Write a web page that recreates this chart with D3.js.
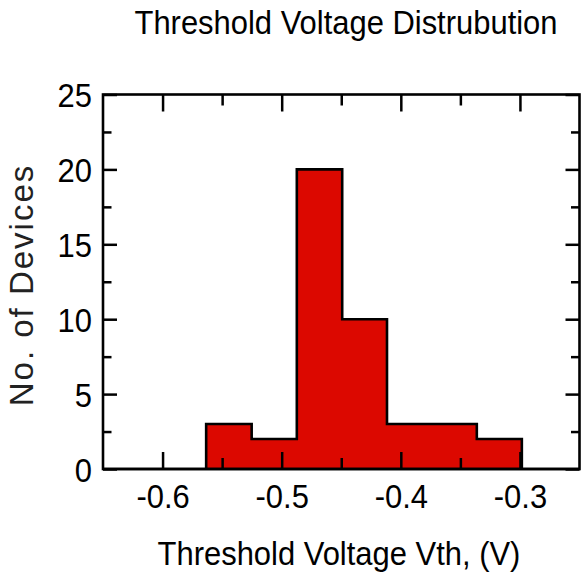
<!DOCTYPE html>
<html>
<head>
<meta charset="utf-8">
<script src="https://cdn.jsdelivr.net/npm/d3@7"></script>
<style>
  body { margin: 0; background: #fff; }
  text { font-family: "Liberation Sans", Arial, Helvetica, sans-serif; fill: #000; }
</style>
</head>
<body>
<div id="chart"></div>
<script>
// Histogram data
var binEdges = [-0.5634, -0.5252, -0.4873, -0.4492, -0.4116, -0.3739, -0.3362, -0.2984];
var counts = [3, 2, 20, 10, 3, 3, 2];

// Axis ticks
var xMajor = [-0.6, -0.5, -0.4, -0.3];
var xMinor = [-0.55, -0.45, -0.35];
var yMajor = [0, 5, 10, 15, 20, 25];
var yMinor = [2.5, 7.5, 12.5, 17.5, 22.5];

var titleText = "Threshold Voltage Distrubution";
var xLabel = "Threshold Voltage Vth, (V)";
var yLabel = "No. of Devices";

var width = 581, height = 579;
// plot box edges (named to avoid clashing with window.top)
var plotL = 103, plotR = 579.5, plotT = 94.5, plotB = 469;
var squeeze = "scale(0.91,1)";

var svg = d3.select("#chart")
  .append("svg")
  .attr("width", width)
  .attr("height", height);

var x = d3.scaleLinear().domain([-0.65, -0.25]).range([plotL, plotR]);
var y = d3.scaleLinear().domain([0, 25]).range([plotB, plotT]);

// Step outline of histogram, from left edge of plot to right edge
var pts = [[-0.65, 0], [binEdges[0], 0]];
counts.forEach(function(c, i) {
  pts.push([binEdges[i], c]);
  pts.push([binEdges[i + 1], c]);
});
pts.push([binEdges[binEdges.length - 1], 0]);
pts.push([-0.25, 0]);

var line = d3.line()
  .x(function(d) { return x(d[0]); })
  .y(function(d) { return y(d[1]); });

svg.append("path")
  .attr("d", line(pts) + "Z")
  .attr("fill", "#dc0800")
  .attr("stroke", "#000")
  .attr("stroke-width", 2.6)
  .attr("stroke-linejoin", "miter");

// Ticks helper
function drawAxis(axis, tx, ty, cls) {
  var g = svg.append("g")
    .attr("class", cls)
    .attr("transform", "translate(" + tx + "," + ty + ")")
    .call(axis);
  g.select(".domain").remove();
  g.selectAll(".tick line").attr("stroke", "#000").attr("stroke-width", 2.5);
  return g;
}

// bottom
var xb = drawAxis(d3.axisBottom(x).tickValues(xMajor).tickSize(-17)
  .tickFormat(function(d) { return d.toFixed(1); }), 0, plotB, "xAxis");
xb.selectAll(".tick text")
  .attr("y", 0).attr("dy", null)
  .attr("transform", "translate(0,39) " + squeeze)
  .style("font-size", "34px");
drawAxis(d3.axisBottom(x).tickValues(xMinor).tickSize(-11).tickFormat(""), 0, plotB, "xMinor");

// top
drawAxis(d3.axisTop(x).tickValues(xMajor).tickSize(-17).tickFormat(""), 0, plotT, "xTop");
drawAxis(d3.axisTop(x).tickValues(xMinor).tickSize(-11).tickFormat(""), 0, plotT, "xTopMinor");

// left
var yl = drawAxis(d3.axisLeft(y).tickValues(yMajor).tickSize(-14)
  .tickFormat(function(d) { return d; }), plotL, 0, "yAxis");
yl.selectAll(".tick text")
  .attr("x", 0).attr("dy", null)
  .attr("text-anchor", "end")
  .attr("transform", "translate(-11,12) " + squeeze)
  .style("font-size", "34px");
drawAxis(d3.axisLeft(y).tickValues(yMinor).tickSize(-8.5).tickFormat(""), plotL, 0, "yMinor");

// right
drawAxis(d3.axisRight(y).tickValues(yMajor).tickSize(-14).tickFormat(""), plotR, 0, "yRight");
drawAxis(d3.axisRight(y).tickValues(yMinor).tickSize(-8.5).tickFormat(""), plotR, 0, "yRightMinor");

// Frame
svg.append("rect")
  .attr("x", plotL)
  .attr("y", plotT)
  .attr("width", plotR - plotL)
  .attr("height", plotB - plotT)
  .attr("fill", "none")
  .attr("stroke", "#000")
  .attr("stroke-width", 2.6);

// Titles
svg.append("text")
  .attr("transform", "translate(346,34) " + squeeze)
  .attr("text-anchor", "middle")
  .style("font-size", "34px")
  .text(titleText);

svg.append("text")
  .attr("transform", "translate(339,565) " + squeeze)
  .attr("text-anchor", "middle")
  .style("font-size", "34px")
  .text(xLabel);

svg.append("text")
  .attr("transform", "translate(33,285) rotate(-90)")
  .attr("text-anchor", "middle")
  .style("font-size", "33px")
  .style("letter-spacing", "2px")
  .style("fill", "#222")
  .text(yLabel);
</script>
</body>
</html>
